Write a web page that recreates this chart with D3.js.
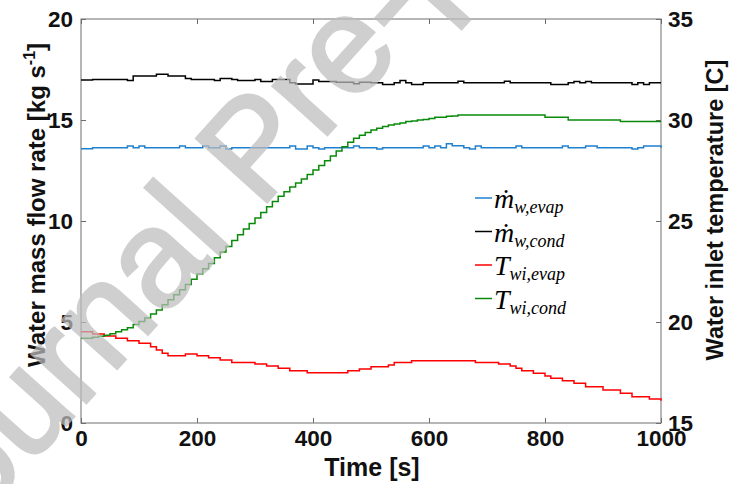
<!DOCTYPE html>
<html>
<head>
<meta charset="utf-8">
<script src="https://cdn.jsdelivr.net/npm/d3@7/dist/d3.min.js"></script>
<style>
  body { margin: 0; background: #fff; }
  .tick text { font-family: "Liberation Sans", Arial, sans-serif; font-weight: bold; font-size: 22.5px; fill: #111; }
  .tick line { stroke: #6e6e6e; }
  .domain { display: none; }
</style>
</head>
<body>
<div id="chart"></div>
<script>
// sample times (s), one reading every 10 s
var time = d3.range(0, 1001, 10);

// water mass flow rate, evaporator [kg/s]
var mEvap = [
  13.58,13.58,13.63,13.63,13.63,13.63,13.63,13.63,13.71,13.63,
  13.71,13.63,13.63,13.63,13.63,13.63,13.63,13.71,13.63,13.63,
  13.63,13.71,13.63,13.63,13.71,13.56,13.63,13.63,13.63,13.63,
  13.63,13.63,13.63,13.63,13.63,13.63,13.71,13.56,13.56,13.71,
  13.63,13.56,13.63,13.63,13.63,13.63,13.63,13.71,13.63,13.63,
  13.63,13.56,13.63,13.63,13.63,13.63,13.63,13.63,13.63,13.71,
  13.63,13.71,13.63,13.83,13.72,13.72,13.63,13.56,13.71,13.63,
  13.63,13.63,13.63,13.63,13.63,13.71,13.63,13.63,13.63,13.63,
  13.63,13.63,13.63,13.71,13.63,13.63,13.63,13.71,13.71,13.63,
  13.63,13.63,13.63,13.63,13.63,13.56,13.63,13.71,13.71,13.71,
  13.63];

// water mass flow rate, condenser [kg/s]
var mCond = [
  16.98,16.98,17.01,17.01,17.01,17.01,17.01,17.01,16.95,17.18,
  17.18,17.18,17.18,17.26,17.26,17.18,17.18,17.18,17.05,17.01,
  17.01,17.01,17.01,16.95,17.06,17.06,17.01,16.95,16.95,16.95,
  17.01,16.90,16.90,17.01,17.01,17.01,16.85,16.78,16.78,16.78,
  16.98,16.90,16.90,16.90,16.87,16.87,16.87,16.80,16.87,16.87,
  16.84,16.84,16.76,16.76,16.84,16.95,16.84,16.76,16.76,16.84,
  16.84,16.84,16.84,16.84,16.84,16.92,16.84,16.84,16.84,16.84,
  16.84,16.84,16.84,16.92,16.84,16.84,16.84,16.84,16.84,16.84,
  16.84,16.76,16.76,16.76,16.84,16.90,16.84,16.90,16.84,16.84,
  16.84,16.84,16.84,16.84,16.84,16.76,16.84,16.76,16.84,16.84,
  16.84];

// water inlet temperature, evaporator [C]
var tEvap = [
  19.52,19.52,19.41,19.41,19.31,19.31,19.19,19.19,19.07,19.07,
  18.95,18.95,18.78,18.61,18.45,18.33,18.33,18.33,18.42,18.42,
  18.33,18.33,18.23,18.23,18.12,18.12,18.00,18.00,18.00,18.00,
  17.92,17.92,17.82,17.82,17.71,17.71,17.59,17.59,17.59,17.49,
  17.49,17.49,17.49,17.49,17.49,17.49,17.59,17.59,17.67,17.67,
  17.79,17.79,17.79,17.87,18.00,18.00,18.00,18.08,18.08,18.08,
  18.08,18.08,18.08,18.08,18.08,18.08,18.08,18.08,18.00,18.00,
  18.00,18.00,17.92,17.92,17.82,17.71,17.59,17.59,17.46,17.46,
  17.33,17.21,17.21,17.09,17.09,16.97,16.97,16.80,16.80,16.80,
  16.63,16.63,16.63,16.47,16.47,16.30,16.30,16.30,16.19,16.19,
  16.10];

// water inlet temperature, condenser [C]
var tCond = [
  19.20,19.20,19.25,19.30,19.35,19.42,19.52,19.62,19.72,19.88,
  20.03,20.20,20.40,20.60,20.85,21.10,21.35,21.60,21.86,22.12,
  22.38,22.63,22.90,23.18,23.46,23.74,24.03,24.32,24.60,24.88,
  25.15,25.42,25.70,25.97,26.22,26.45,26.68,26.88,27.08,27.30,
  27.52,27.75,27.98,28.22,28.46,28.68,28.90,29.10,29.25,29.38,
  29.50,29.59,29.68,29.75,29.80,29.85,29.92,29.95,30.00,30.03,
  30.08,30.13,30.13,30.18,30.20,30.25,30.25,30.25,30.25,30.25,
  30.25,30.25,30.25,30.25,30.25,30.25,30.25,30.25,30.25,30.25,
  30.13,30.13,30.13,30.13,30.00,30.00,30.00,30.00,30.00,30.00,
  30.00,30.00,30.00,29.92,29.92,29.92,29.92,29.92,29.92,29.92,
  29.92];

var xTicks = [0, 200, 400, 600, 800, 1000];
var yLeftTicks = [0, 5, 10, 15, 20];
var yRightTicks = [15, 20, 25, 30, 35];

// set width and height of graphic
var width = 731,
    height = 484;
var margin = {top: 19, right: 70, bottom: 61, left: 81};
var w = width - margin.left - margin.right,
    h = height - margin.top - margin.bottom;

var svg = d3.select("#chart").append("svg")
    .attr("width", width)
    .attr("height", height);

var g = svg.append("g")
    .attr("transform", "translate(" + margin.left + "," + margin.top + ")");

var x = d3.scaleLinear().domain([0, 1000]).range([0, w]);
var yL = d3.scaleLinear().domain([0, 20]).range([h, 0]);
var yR = d3.scaleLinear().domain([15, 35]).range([h, 0]);

// axes, ticks pointing inward
g.append("g")
    .attr("transform", "translate(0," + h + ")")
    .call(d3.axisBottom(x).tickValues(xTicks).tickFormat(d3.format("d"))
      .tickSize(-5).tickSizeOuter(0).tickPadding(7));

g.append("g")
    .call(d3.axisTop(x).tickValues(xTicks).tickSize(-5).tickSizeOuter(0).tickFormat(""));

g.append("g")
    .call(d3.axisLeft(yL).tickValues(yLeftTicks).tickSize(-5).tickSizeOuter(0).tickPadding(8));

g.append("g")
    .attr("transform", "translate(" + w + ",0)")
    .call(d3.axisRight(yR).tickValues(yRightTicks).tickSize(-5).tickSizeOuter(0).tickPadding(7));

g.append("rect")
    .attr("width", w)
    .attr("height", h)
    .attr("fill", "none")
    .attr("stroke", "#6e6e6e")
    .attr("stroke-width", 1);

// series
var series = [
  {name: "mEvap", values: mEvap, y: yL, color: "#1f80d0"},
  {name: "mCond", values: mCond, y: yL, color: "#000000"},
  {name: "tEvap", values: tEvap, y: yR, color: "#ff0000"},
  {name: "tCond", values: tCond, y: yR, color: "#0a8a0a"}
];

series.forEach(function(s) {
  var line = d3.line()
      .x(function(d, i) { return x(time[i]); })
      .y(function(d) { return s.y(d); })
      .curve(d3.curveStepAfter);
  g.append("path")
      .datum(s.values)
      .attr("fill", "none")
      .attr("stroke", s.color)
      .attr("stroke-width", 1.5)
      .attr("d", line);
});

// axis titles
svg.append("text")
    .attr("transform", "translate(372,476)")
    .attr("text-anchor", "middle")
    .style("font-family", "Liberation Sans, Arial, sans-serif")
    .style("font-weight", "bold")
    .style("font-size", "25px")
    .attr("fill", "#111")
    .text("Time [s]");

var lt = svg.append("text")
    .attr("transform", "translate(45,205) rotate(-90)")
    .attr("text-anchor", "middle")
    .style("font-family", "Liberation Sans, Arial, sans-serif")
    .style("font-weight", "bold")
    .style("font-size", "24px")
    .attr("fill", "#111");
lt.append("tspan").text("Water mass flow rate [kg s");
lt.append("tspan").attr("dy", -10).style("font-size", "16px").text("-1");
lt.append("tspan").attr("dy", 10).text("]");

svg.append("text")
    .attr("transform", "translate(723,210) rotate(-90)")
    .attr("text-anchor", "middle")
    .style("font-family", "Liberation Sans, Arial, sans-serif")
    .style("font-weight", "bold")
    .style("font-size", "23.5px")
    .attr("fill", "#111")
    .text("Water inlet temperature [C]");

// legend (no box)
var legendLabels = [
  {main: "\u1E41", sub: "w,evap"},
  {main: "\u1E41", sub: "w,cond"},
  {main: "T", sub: "wi,evap"},
  {main: "T", sub: "wi,cond"}
];

var legend = svg.append("g").attr("transform", "translate(475,198)");
legendLabels.forEach(function(d, i) {
  var row = legend.append("g").attr("transform", "translate(0," + (i * 33.5) + ")");
  row.append("line")
      .attr("x1", 0).attr("x2", 17)
      .attr("stroke", series[i].color)
      .attr("stroke-width", 1.5);
  var t = row.append("text")
      .attr("x", 19)
      .attr("y", 10)
      .style("font-family", "Liberation Serif, 'Times New Roman', serif")
      .style("font-style", "italic")
      .attr("fill", "#000");
  t.append("tspan").style("font-size", "28px").text(d.main);
  t.append("tspan").attr("dy", 5).style("font-size", "18px").text(d.sub);
});

// watermark on top
svg.append("text")
    .attr("transform", "translate(-69,575) rotate(-48)")
    .style("font-family", "Liberation Sans, Arial, sans-serif")
    .style("font-size", "138px")
    .attr("fill", "#bdbdbd")
    .attr("stroke", "#bdbdbd")
    .attr("stroke-width", 3)
    .attr("opacity", 0.72)
    .text("Journal Pre-proof");
</script>
</body>
</html>
